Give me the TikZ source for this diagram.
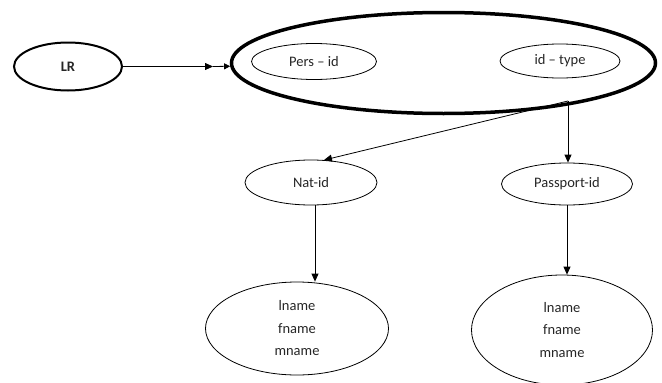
\documentclass[tikz,border=0pt]{standalone}
\usepackage{fontspec}
\setmainfont{Carlito}
\usetikzlibrary{shapes.geometric,arrows.meta}
\begin{document}
\begin{tikzpicture}[x=1pt,y=-1pt,
  ell/.style={draw, ellipse, inner sep=0pt, line width=0.8pt,
    font=\fontsize{14.5}{22.5}\selectfont, text=black!85},
  arr/.style={line width=0.8pt, -{Triangle[length=8pt,width=7pt]}},
]
\useasboundingbox (0,0) rectangle (662,383);
\node[ell, line width=2pt, minimum width=108pt, minimum height=48pt,
  font=\bfseries\fontsize{14.5}{22}\selectfont] (lr) at (68,66.5) {LR};
\node[ell, line width=3.5pt, minimum width=424pt, minimum height=101pt] (big) at (443.5,63) {};
\node[ell, minimum width=125pt, minimum height=36pt] (pers) at (314,61.5) {Pers – id};
\node[ell, minimum width=120pt, minimum height=34pt] (idt) at (560,61) {id – type};
\node[ell, minimum width=132pt, minimum height=45pt] (nat) at (311,182.5) {Nat-id};
\node[ell, minimum width=131pt, minimum height=42pt] (pass) at (567,184) {Passport-id};
\node[ell, minimum width=183pt, minimum height=93pt, align=center] (lnat) at (297,328.5) {lname\\fname\\mname};
\node[ell, minimum width=181pt, minimum height=110pt, align=center] (lpass) at (562,330) {lname\\fname\\mname};
\coordinate (m) at (213,66.5);
\coordinate (src) at (568,101);
\draw[arr] (lr) -- (m);
\draw[line width=0.8pt, -{Triangle[length=6pt,width=6pt]}] (m) -- (big);
\draw[arr] (src) -- (nat.60);
\draw[arr] (src) -- (src |- pass.north);
\draw[arr] ([xshift=4pt]nat.south) -- ([xshift=4pt]nat.south |- lnat.north);
\draw[arr] (pass.south) -- (pass.south |- lpass.north);
\end{tikzpicture}
\end{document}
